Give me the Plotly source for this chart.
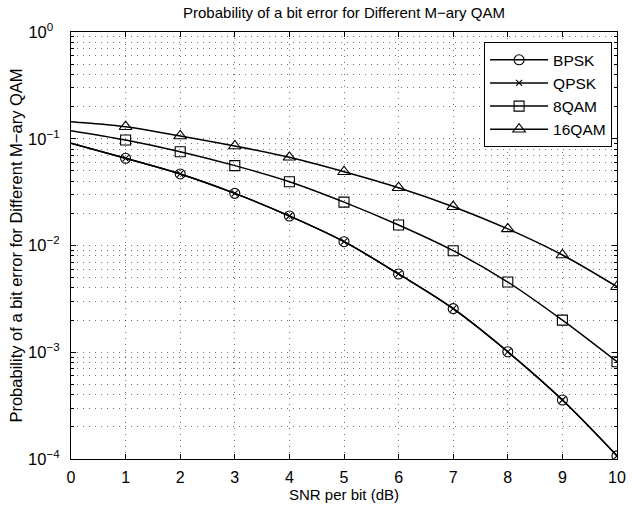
import plotly.graph_objects as go

# Eb/N0 sweep (dB) and bit-error probabilities for each modulation
snr_db = [0, 1, 2, 3, 4, 5, 6, 7, 8, 9, 10]
ber_bpsk = [0.0906, 0.0656, 0.0468, 0.0308, 0.0189, 0.01086, 0.00541,
            0.00256, 0.00101, 0.000357, 0.000107]
ber_qpsk = [0.0906, 0.0656, 0.0468, 0.0308, 0.0189, 0.01086, 0.00541,
            0.00256, 0.00101, 0.000357, 0.000107]
ber_8qam = [0.119, 0.0973, 0.0756, 0.0560, 0.0396, 0.0255, 0.01556,
            0.00894, 0.00455, 0.00200, 0.000815]
ber_16qam = [0.1445, 0.1297, 0.1062, 0.0855, 0.0670, 0.0491, 0.0348,
             0.0231, 0.0143, 0.00815, 0.00411]

series_names = ["BPSK", "QPSK", "8QAM", "16QAM"]
series_values = [ber_bpsk, ber_qpsk, ber_8qam, ber_16qam]
series_symbols = ["circle-open", "x-thin-open", "square-open", "triangle-up-open"]
series_sizes = [10, 6, 10, 11]

x_tick_vals = [0, 1, 2, 3, 4, 5, 6, 7, 8, 9, 10]
x_tick_text = ["0", "1", "2", "3", "4", "5", "6", "7", "8", "9", "10"]
y_tick_vals = [1e-4, 1e-3, 1e-2, 1e-1, 1]
# a figure space keeps the "10" of 10^0 in line with the other labels
y_tick_text = ["10<sup>\u22124</sup>", "10<sup>\u22123</sup>", "10<sup>\u22122</sup>",
               "10<sup>\u22121</sup>", "10<sup>0\u2007</sup>"]

FONT = "Liberation Sans, Arial, sans-serif"
INK = "black"
GRID = "rgba(0,0,0,0.55)"
DOTS = "1px,5px"

fig = go.Figure()

for name, vals, sym, size in zip(series_names, series_values, series_symbols, series_sizes):
    # smooth curve through every point
    fig.add_trace(go.Scatter(
        x=snr_db, y=vals, mode="lines", line=dict(color=INK, width=1.5, shape="spline"),
        showlegend=False, hoverinfo="skip"))
    # markers at the integer SNR points (1..10 dB)
    fig.add_trace(go.Scatter(
        x=snr_db[1:], y=vals[1:], mode="markers",
        marker=dict(symbol=sym, size=size, color=INK, line=dict(color=INK, width=1.1)),
        showlegend=False, name=name))
    # legend entry
    fig.add_trace(go.Scatter(
        x=[None], y=[None], mode="lines+markers", name=name,
        line=dict(color=INK, width=1.5),
        marker=dict(symbol=sym, size=size, color=INK, line=dict(color=INK, width=1.1))))

minor_y = [m * 10.0 ** e for e in range(-4, 0) for m in range(2, 10)]

fig.update_layout(
    width=632, height=506,
    margin=dict(l=71, r=15, t=32, b=47),
    paper_bgcolor="white", plot_bgcolor="white",
    font=dict(family=FONT, size=16, color=INK),
    title=dict(text="Probability of a bit error for Different M\u2212ary QAM",
               x=0.5, xref="paper", xanchor="center",
               y=1 - 13 / 506, yref="container", yanchor="middle",
               font=dict(size=15, family=FONT, color=INK)),
    legend=dict(x=0.991, y=0.976, xanchor="right", yanchor="top",
                bgcolor="white", bordercolor=INK, borderwidth=1,
                font=dict(size=15.5, family=FONT, color=INK),
                itemwidth=58, tracegroupgap=0),
    showlegend=True,
)

fig.update_xaxes(
    range=[0, 10], tickmode="array", tickvals=x_tick_vals, ticktext=x_tick_text,
    ticks="inside", ticklen=5, tickcolor=INK, tickwidth=1,
    showline=True, linecolor=INK, linewidth=1.2, mirror="allticks",
    showgrid=True, gridcolor=GRID, griddash=DOTS, gridwidth=1,
    zeroline=False, tickfont=dict(size=16, family=FONT, color=INK),
    ticklabelstandoff=4, automargin=False,
    title=dict(text="SNR per bit (dB)", font=dict(size=15, family=FONT, color=INK), standoff=3),
)

fig.update_yaxes(
    type="log", range=[-4, 0], tickmode="array", tickvals=y_tick_vals, ticktext=y_tick_text,
    ticks="inside", ticklen=5, tickcolor=INK, tickwidth=1,
    showline=True, linecolor=INK, linewidth=1.2, mirror="allticks",
    showgrid=True, gridcolor=GRID, griddash=DOTS, gridwidth=1,
    zeroline=False, tickfont=dict(size=16.5, family=FONT, color=INK),
    ticklabelstandoff=7, automargin=False,
    minor=dict(tickmode="array", tickvals=minor_y, ticks="inside", ticklen=3,
               tickcolor=INK, showgrid=True, gridcolor=GRID, griddash=DOTS, gridwidth=1),
    title=dict(text="Probability of a bit error for Different M\u2212ary QAM",
               font=dict(size=16.5, family=FONT, color=INK), standoff=1),
)

fig.write_html("out.html")
